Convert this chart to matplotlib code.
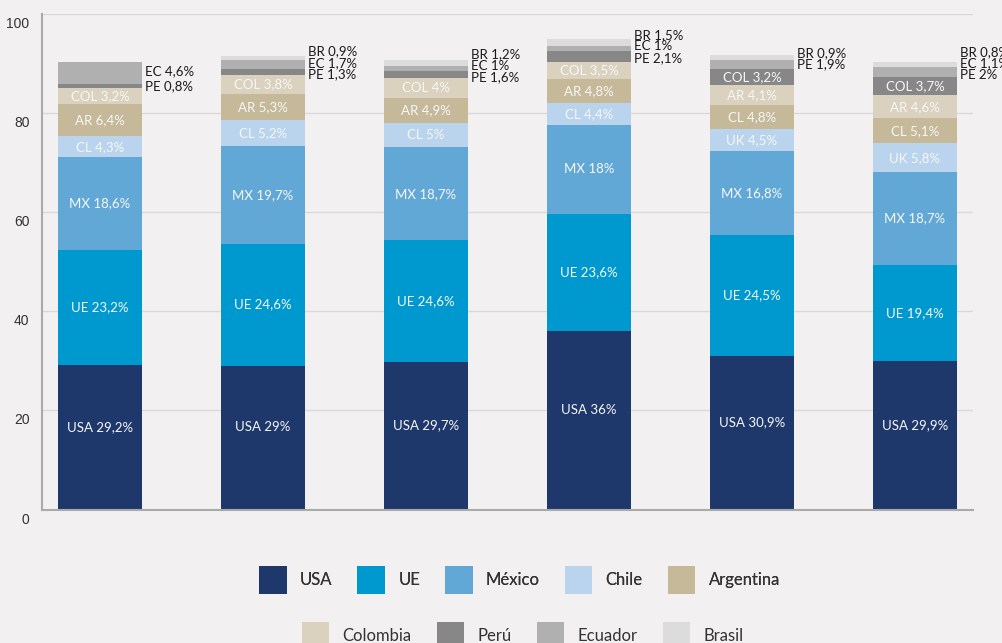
import numpy as np
import matplotlib
matplotlib.use('Agg')
import matplotlib.pyplot as plt
import matplotlib.transforms as mtransforms
from matplotlib.patches import Patch

plt.rcParams['font.family'] = ['Lato', 'DejaVu Sans']

# stacked slots, bottom to top (values in %)
series = ['USA', 'UE', 'México', 'Chile', 'Argentina', 'Colombia', 'Perú', 'Ecuador', 'Brasil']
usa = [29.2, 29.0, 29.7, 36.0, 30.9, 29.9]
ue = [23.2, 24.6, 24.6, 23.6, 24.5, 19.4]
mexico = [18.6, 19.7, 18.7, 18.0, 16.8, 18.7]
chile = [4.3, 5.2, 5.0, 4.4, 4.5, 5.8]
argentina = [6.4, 5.3, 4.9, 4.8, 4.8, 5.1]
colombia = [3.2, 3.8, 4.0, 3.5, 4.1, 4.6]
peru = [0.8, 1.3, 1.6, 2.1, 3.2, 3.7]
ecuador = [4.6, 1.7, 1.0, 1.0, 1.9, 2.0]
brasil = [0.0, 0.9, 1.2, 1.5, 0.9, 1.1]

# labels drawn inside the segments
lab_usa = ['USA 29,2%', 'USA 29%', 'USA 29,7%', 'USA 36%', 'USA 30,9%', 'USA 29,9%']
lab_ue = ['UE 23,2%', 'UE 24,6%', 'UE 24,6%', 'UE 23,6%', 'UE 24,5%', 'UE 19,4%']
lab_mx = ['MX 18,6%', 'MX 19,7%', 'MX 18,7%', 'MX 18%', 'MX 16,8%', 'MX 18,7%']
lab_cl = ['CL 4,3%', 'CL 5,2%', 'CL 5%', 'CL 4,4%', 'UK 4,5%', 'UK 5,8%']
lab_ar = ['AR 6,4%', 'AR 5,3%', 'AR 4,9%', 'AR 4,8%', 'CL 4,8%', 'CL 5,1%']
lab_col = ['COL 3,2%', 'COL 3,8%', 'COL 4%', 'COL 3,5%', 'AR 4,1%', 'AR 4,6%']
lab_pe = ['', '', '', '', 'COL 3,2%', 'COL 3,7%']

# labels written to the right of each bar
side_labels = [['EC 4,6%', 'PE 0,8%'],
               ['BR 0,9%', 'EC 1,7%', 'PE 1,3%'],
               ['BR 1,2%', 'EC 1%', 'PE 1,6%'],
               ['BR 1,5%', 'EC 1%', 'PE 2,1%'],
               ['BR 0,9%', 'PE 1,9%'],
               ['BR 0,8%', 'EC 1,1%', 'PE 2%']]

colors = ['#1f386c', '#0099cf', '#62a8d7', '#b9d4ec', '#c5b999',
          '#dad2bf', '#878787', '#b0b0b0', '#dcdcdc']
bg = '#f2f0f1'

data = [usa, ue, mexico, chile, argentina, colombia, peru, ecuador, brasil]
inside = [lab_usa, lab_ue, lab_mx, lab_cl, lab_ar, lab_col, lab_pe]
lab_shift = [2.1, 0, 0, 0, 0, 0, 0]

fig = plt.figure(figsize=(10.03, 6.43), dpi=100, facecolor=bg)
ax = fig.add_axes([42 / 1003, 1 - 509.5 / 643, 931 / 1003, 496 / 643])
ax.set_facecolor(bg)

x = np.arange(len(usa))
w = 0.515
bottom = np.zeros(len(usa))
for vals, col in zip(data, colors):
    ax.bar(x, vals, w, bottom=bottom, color=col, zorder=2)
    bottom = bottom + np.array(vals)

# inside labels
base = np.zeros(len(usa))
for i, (vals, labs) in enumerate(zip(data, inside)):
    for j in range(len(x)):
        if labs[j]:
            ax.text(x[j], base[j] + vals[j] / 2 + lab_shift[i], labs[j], ha='center', va='center',
                    color='#f7f7f7', fontsize=9.5, zorder=3)
    base = base + np.array(vals)

# side labels (the last column runs off the right edge, as in the original)
totals = bottom
side_off = [-2.0, 0.9, 1.1, 0.8, 0.5, 2.0]
side_step = [3.0, 2.35, 2.35, 2.35, 2.35, 2.35]
for j in range(len(x)):
    for k, s in enumerate(side_labels[j]):
        ax.text(x[j] + w / 2 + 0.02, totals[j] + side_off[j] - k * side_step[j], s,
                ha='left', va='center', color='#1a1a1a', fontsize=9.5, zorder=3, clip_on=False)

ax.set_xlim(-0.356, 5.356)
ax.set_ylim(0, 100)
ax.set_xticks([])
ax.set_yticks([0, 20, 40, 60, 80, 100])
ax.yaxis.grid(True, color='#d9d9d9', lw=1, zorder=0)
ax.tick_params(axis='y', length=0, pad=9, labelsize=10, labelcolor='#333333')
for lbl in ax.get_yticklabels():
    lbl.set_fontfamily('Liberation Sans')
    lbl.set_verticalalignment('top')
    lbl.set_transform(lbl.get_transform() + mtransforms.ScaledTranslation(0, -3 / 100, fig.dpi_scale_trans))
for s in ['top', 'right']:
    ax.spines[s].set_visible(False)
ax.spines['left'].set_color('#aaaaaa')
ax.spines['left'].set_linewidth(1.5)
ax.spines['bottom'].set_color('#aaaaaa')
ax.spines['bottom'].set_linewidth(1.5)

# legend in two rows
handles = [Patch(facecolor=c, edgecolor='none', label=n) for c, n in zip(colors, series)]
leg_kw = dict(frameon=False, fontsize=12, handlelength=1.65, handleheight=2.2,
              handletextpad=0.8, columnspacing=1.5, labelcolor='#333333', loc='center')
leg1 = fig.legend(handles=handles[:5], ncol=5, bbox_to_anchor=(0.518, 1 - 580 / 643), **leg_kw)
fig.add_artist(leg1)
fig.legend(handles=handles[5:], ncol=4, bbox_to_anchor=(0.521, 1 - 636 / 643), **leg_kw)

fig.savefig('out.png', dpi=100, facecolor=bg)
